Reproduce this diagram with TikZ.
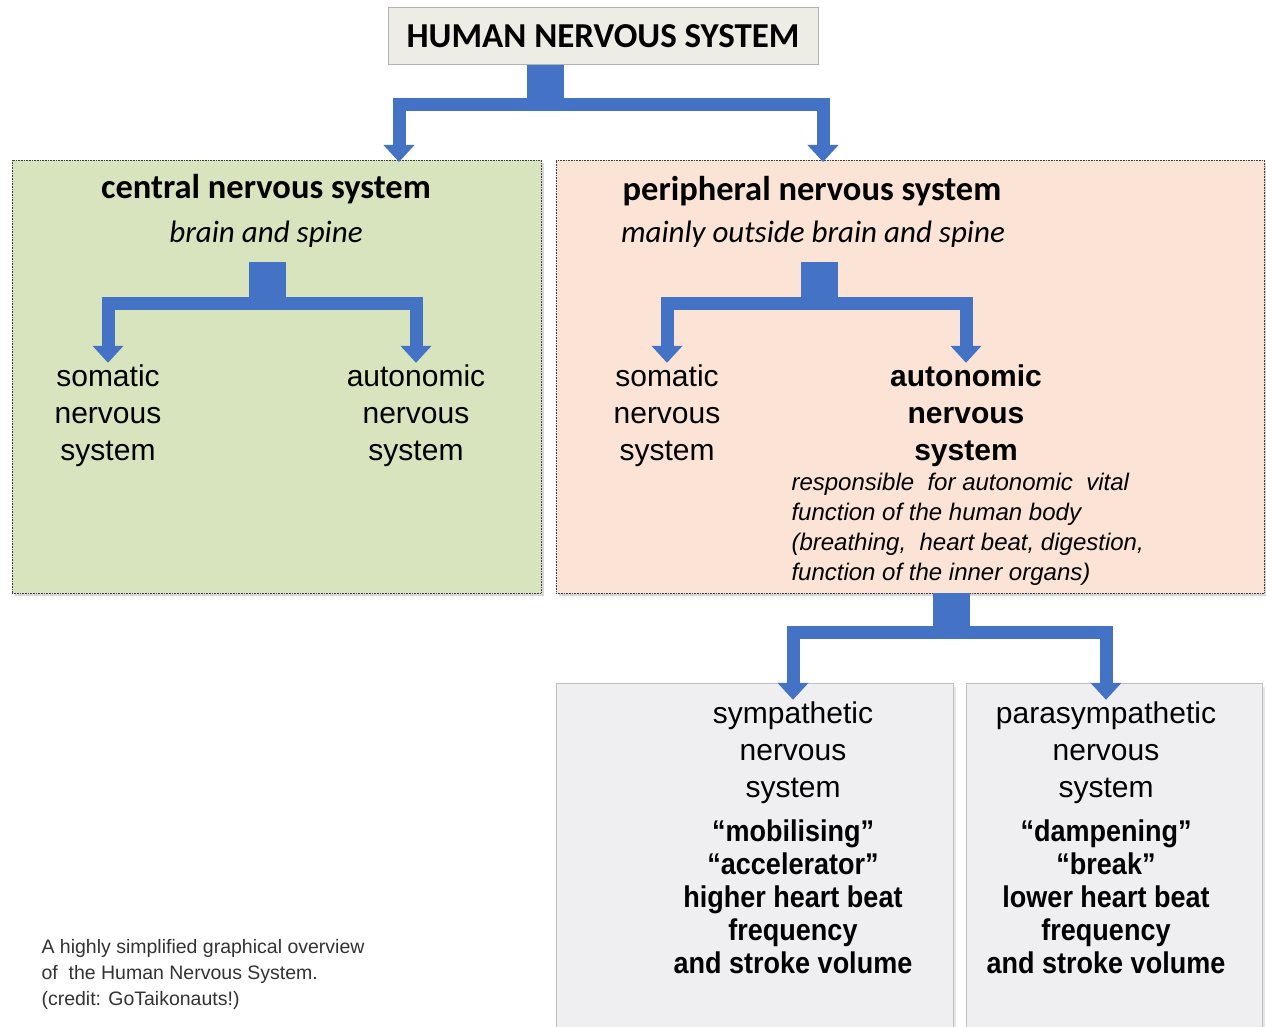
\documentclass[tikz,border=0pt]{standalone}
\usepackage{fontspec}
\setmainfont{Liberation Sans}
\newfontfamily\calibri{Carlito}
\newfontfamily\narrowsans[FakeStretch=0.9]{Liberation Sans}
\usetikzlibrary{arrows.meta,shadows}
\definecolor{arrowblue}{HTML}{4472C4}
\definecolor{cnsgreen}{HTML}{D8E4BE}
\definecolor{pnspeach}{HTML}{FBE3D5}
\definecolor{lowgrey}{HTML}{EFEFF1}
\definecolor{titlefill}{HTML}{EDEDE6}
\begin{document}
\begin{tikzpicture}[x=1pt,y=-1pt,
	box/.style={rectangle, draw=black!75, densely dotted, line width=0.6pt, drop shadow={opacity=0.3, shadow xshift=3pt, shadow yshift=-3pt}},
	lowbox/.style={rectangle, draw=black!25, fill=lowgrey, line width=0.8pt, drop shadow={opacity=0.2, shadow xshift=3pt, shadow yshift=-3pt}},
	titlebox/.style={rectangle, draw=black!30, fill=titlefill, line width=0.8pt, font=\calibri\bfseries\fontsize{35}{40}\selectfont},
	head/.style={font=\calibri\bfseries\fontsize{34.5}{40}\selectfont},
	sub/.style={font=\calibri\itshape\fontsize{31}{36}\selectfont},
	systext/.style={align=center, inner sep=2pt, font=\fontsize{30}{37}\selectfont},
	effect/.style={align=center, inner sep=2pt, font=\narrowsans\bfseries\fontsize{30}{33}\selectfont},
	desc/.style={align=left, font=\itshape\fontsize{24}{30}\selectfont},
	note/.style={align=left, anchor=north west, text=black!80, font=\fontsize{19.5}{26}\selectfont},
	stem/.style={draw=arrowblue, line width=37pt},
	fork/.style={draw=arrowblue, line width=13pt, -{Triangle[width=30pt,length=17pt]}}]
	\fill[white] (0,0) rectangle (1266,1027);
	\useasboundingbox (0,0) rectangle (1266,1027);

	\node[titlebox, minimum width=430pt, minimum height=57pt] (title) at (603,36) {HUMAN NERVOUS SYSTEM};

	\node[box, fill=cnsgreen, minimum width=529pt, minimum height=433pt] (cns) at (276.5,376.5) {};
	\node[box, fill=pnspeach, minimum width=708pt, minimum height=433pt] (pns) at (910,376.5) {};
	\node[lowbox, minimum width=397pt, minimum height=345pt] (symbox) at (754.5,856) {};
	\node[lowbox, minimum width=296pt, minimum height=345pt] (parbox) at (1114,856) {};

	\node[head] (cnshead) at (266,189) {central nervous system};
	\node[sub] (cnssub) at (266,234) {brain and spine};
	\node[head] (pnshead) at (812,191) {peripheral nervous system};
	\node[sub] (pnssub) at (813,234) {mainly outside brain and spine};

	\node[systext] (som1) at (108,416) {somatic\\nervous\\system};
	\node[systext] (aut1) at (416,416) {autonomic\\nervous\\system};
	\node[systext] (som2) at (667,416) {somatic\\nervous\\system};
	\node[systext, font=\bfseries\fontsize{30}{37}\selectfont] (aut2) at (966,416) {autonomic\\nervous\\system};
	\node[desc, anchor=west] (ansdesc) at (788,529) {responsible\ \ for autonomic\ \ vital\\function of the human body\\(breathing,\ \ heart beat, digestion,\\function of the inner organs)};

	\node[systext] (symhead) at (793,753) {sympathetic\\nervous\\system};
	\node[effect] (symfx) at (793,897) {“mobilising”\\“accelerator”\\higher heart beat\\frequency\\and stroke volume};
	\node[systext] (parhead) at (1106,753) {parasympathetic\\nervous\\system};
	\node[effect] (parfx) at (1106,897) {“dampening”\\“break”\\lower heart beat\\frequency\\and stroke volume};

	\node[note] (credit) at (38,936) {A highly simplified graphical overview\\of\ \ the Human Nervous System.\\(credit: GoTaikonauts!)};

	% arrows
	\coordinate (j0) at (545,105);
	\coordinate (cnsin) at (399,162);
	\coordinate (pnsin) at (823,162);
	\draw[stem] (j0 |- title.south) -- (j0);
	\draw[fork] (j0) -| (cnsin);
	\draw[fork] (j0) -| (pnsin);

	\coordinate (j1) at (267,303);
	\coordinate (s1) at (267,262);
	\draw[stem] (s1) -- (j1);
	\draw[fork] (j1) -| (som1.north);
	\draw[fork] (j1) -| (aut1.north);

	\coordinate (j2) at (819,303);
	\coordinate (s2) at (819,262);
	\draw[stem] (s2) -- (j2);
	\draw[fork] (j2) -| (som2.north);
	\draw[fork] (j2) -| (aut2.north);

	\coordinate (j3) at (951,632);
	\draw[stem] (pns.south -| j3) -- (j3);
	\draw[fork] (j3) -| (symhead.north);
	\draw[fork] (j3) -| (parhead.north);
\end{tikzpicture}
\end{document}
